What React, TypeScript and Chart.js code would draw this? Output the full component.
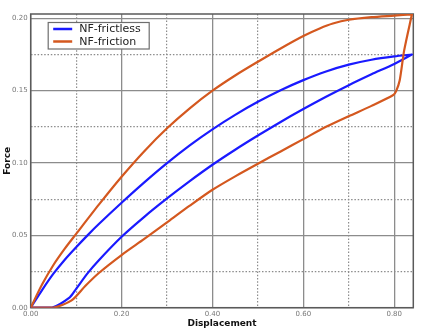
import React, { useEffect, useRef } from "react";
import { Chart, registerables } from "chart.js";

Chart.register(...registerables);

// ---- Data ----
const seriesNames = ["NF-frictless", "NF-friction"];
const seriesColors = ["#1a1aff", "#d4581f"];

const blueLoadX = [0, 0.025, 0.05, 0.075, 0.1, 0.125, 0.15, 0.2, 0.25, 0.3, 0.35, 0.4, 0.45, 0.5, 0.55, 0.6, 0.65, 0.7, 0.75, 0.8, 0.839];
const blueLoadY = [0, 0.0122, 0.0235, 0.0332, 0.0418, 0.05, 0.0578, 0.0725, 0.0866, 0.0999, 0.1122, 0.1233, 0.1333, 0.1423, 0.1503, 0.1573, 0.1633, 0.168, 0.1714, 0.1737, 0.175];
const blueUnloadX = [0.839, 0.8, 0.75, 0.7, 0.65, 0.6, 0.55, 0.5, 0.45, 0.4, 0.35, 0.3, 0.25, 0.2, 0.15, 0.125, 0.1, 0.086, 0.046, 0];
const blueUnloadY = [0.175, 0.1685, 0.1613, 0.1538, 0.1458, 0.1373, 0.1284, 0.119, 0.1092, 0.0988, 0.0875, 0.0755, 0.0628, 0.049, 0.0328, 0.0237, 0.013, 0.0072, 0, 0];

const orangeLoadX = [0, 0.025, 0.05, 0.075, 0.1, 0.15, 0.2, 0.25, 0.3, 0.35, 0.4, 0.45, 0.5, 0.55, 0.6, 0.636, 0.665, 0.7, 0.75, 0.8, 0.839];
const orangeLoadY = [0, 0.016, 0.0295, 0.0408, 0.051, 0.0712, 0.0905, 0.1082, 0.124, 0.1378, 0.15, 0.1605, 0.17, 0.1792, 0.1878, 0.193, 0.1964, 0.199, 0.2008, 0.2019, 0.2028];
const orangeUnloadX = [0.839, 0.822, 0.812, 0.804, 0.798, 0.75, 0.7, 0.65, 0.6, 0.55, 0.5, 0.45, 0.4, 0.35, 0.3, 0.25, 0.2, 0.15, 0.12, 0.09, 0.05, 0];
const orangeUnloadY = [0.2028, 0.178, 0.157, 0.1495, 0.147, 0.1395, 0.1324, 0.125, 0.1165, 0.108, 0.0995, 0.0908, 0.0815, 0.0705, 0.059, 0.0475, 0.0364, 0.024, 0.015, 0.005, 0, 0];

const xMajorTicks = [0, 0.2, 0.4, 0.6, 0.8];
const xMinorTicks = [0.1, 0.3, 0.5, 0.7];
const yMajorTicks = [0, 0.05, 0.1, 0.15, 0.2];
const yMinorTicks = [0.025, 0.075, 0.125, 0.175];
const xMax = 0.842;
const yMax = 0.203;
const xTitle = "Displacement";
const yTitle = "Force";

const toPoints = (xs: number[], ys: number[]) => xs.map((x, i) => ({ x, y: ys[i] }));

const framePlugin = {
  id: "frame",
  beforeDatasetsDraw(chart: any) {
    const { ctx, chartArea: a } = chart;
    ctx.save();
    ctx.strokeStyle = "#5a5a5a";
    ctx.lineWidth = 1.5;
    ctx.strokeRect(a.left, a.top, a.right - a.left, a.bottom - a.top);
    ctx.restore();
  },
};

const legendPlugin = {
  id: "boxLegend",
  afterDraw(chart: any) {
    const { ctx, chartArea: a } = chart;
    const bx = a.left + 17.5;
    const by = a.top + 8.5;
    ctx.save();
    ctx.fillStyle = "#ffffff";
    ctx.strokeStyle = "#6e6e6e";
    ctx.lineWidth = 1.2;
    ctx.fillRect(bx, by, 101, 26.5);
    ctx.strokeRect(bx, by, 101, 26.5);
    ctx.font = '11px "DejaVu Sans"';
    ctx.textBaseline = "middle";
    ctx.textAlign = "left";
    seriesNames.forEach((name, i) => {
      const y = by + 6.5 + i * 12.5;
      ctx.strokeStyle = seriesColors[i];
      ctx.lineWidth = 2.5;
      ctx.beginPath();
      ctx.moveTo(bx + 5, y);
      ctx.lineTo(bx + 24, y);
      ctx.stroke();
      ctx.fillStyle = "#222";
      ctx.fillText(name, bx + 31, y + 0.5);
    });
    ctx.restore();
  },
};

const tickFont = { family: "DejaVu Sans", size: 7 };
const titleFont = { family: "DejaVu Sans", size: 9, weight: "bold" as const };

export default function App() {
  const ref = useRef<HTMLCanvasElement>(null);
  useEffect(() => {
    if (!ref.current) return;
    const chart = new Chart(ref.current, {
      type: "scatter",
      data: {
        datasets: [
          {
            label: seriesNames[0],
            data: [...toPoints(blueLoadX, blueLoadY), ...toPoints(blueUnloadX, blueUnloadY)],
            showLine: true,
            borderColor: seriesColors[0],
            backgroundColor: seriesColors[0],
            borderWidth: 2.2,
            pointRadius: 0,
            tension: 0.25,
            borderJoinStyle: "round",
            order: 2,
          },
          {
            label: seriesNames[1],
            data: [...toPoints(orangeLoadX, orangeLoadY), ...toPoints(orangeUnloadX, orangeUnloadY)],
            showLine: true,
            borderColor: seriesColors[1],
            backgroundColor: seriesColors[1],
            borderWidth: 2.2,
            pointRadius: 0,
            tension: 0.25,
            borderJoinStyle: "round",
            order: 1,
          },
        ],
      },
      options: {
        responsive: false,
        animation: false,
        devicePixelRatio: 1,
        events: [],
        layout: { padding: { left: 0, right: 7.7, top: 14, bottom: 0 } },
        plugins: { legend: { display: false }, tooltip: { enabled: false } },
        scales: {
          x: {
            type: "linear",
            position: "bottom",
            min: 0,
            max: xMax,
            afterBuildTicks: (s: any) => { s.ticks = xMajorTicks.map((v) => ({ value: v })); },
            afterFit: (s: any) => { s.height = 25.3; },
            ticks: { font: tickFont, color: "#777", padding: 2, maxRotation: 0, callback: (v: any) => Number(v).toFixed(2) },
            grid: { color: "#8c8c8c", lineWidth: 1.3, drawTicks: false },
            border: { display: false },
            title: { display: true, text: xTitle, font: titleFont, color: "#111", padding: { top: 0, bottom: 4 } },
          },
          x2: {
            type: "linear",
            position: "bottom",
            min: 0,
            max: xMax,
            afterBuildTicks: (s: any) => { s.ticks = xMinorTicks.map((v) => ({ value: v })); },
            afterFit: (s: any) => { s.height = 0; },
            ticks: { display: false },
            grid: { color: "#8c8c8c", lineWidth: 1.2, drawTicks: false },
            border: { display: false, dash: [1.5, 1.8] },
          },
          y: {
            type: "linear",
            position: "left",
            min: 0,
            max: yMax,
            afterBuildTicks: (s: any) => { s.ticks = yMajorTicks.map((v) => ({ value: v })); },
            afterFit: (s: any) => { s.width = 30.7; },
            ticks: { font: tickFont, color: "#777", padding: 3, callback: (v: any) => Number(v).toFixed(2) },
            grid: { color: "#8c8c8c", lineWidth: 1.3, drawTicks: false },
            border: { display: false },
            title: { display: true, text: yTitle, font: titleFont, color: "#111", padding: { top: 2.5, bottom: 0 } },
          },
          y2: {
            type: "linear",
            position: "left",
            min: 0,
            max: yMax,
            afterBuildTicks: (s: any) => { s.ticks = yMinorTicks.map((v) => ({ value: v })); },
            afterFit: (s: any) => { s.width = 0; },
            ticks: { display: false },
            grid: { color: "#8c8c8c", lineWidth: 1.2, drawTicks: false },
            border: { display: false, dash: [1.5, 1.8] },
          },
        },
      },
      plugins: [framePlugin, legendPlugin],
    } as any);
    return () => chart.destroy();
  }, []);
  return (
    <div style={{ position: "fixed", left: 0, top: 0, width: 421, height: 333, background: "#fff" }}>
      <canvas ref={ref} width={421} height={333} />
    </div>
  );
}
